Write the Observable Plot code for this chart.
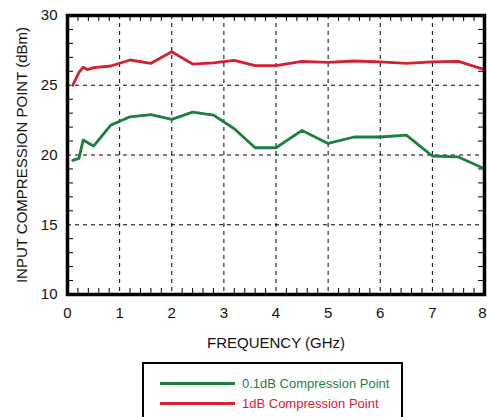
<!DOCTYPE html>
<html>
<head>
<meta charset="utf-8">
<script src="https://cdn.jsdelivr.net/npm/d3@7"></script>
<script src="https://cdn.jsdelivr.net/npm/@observablehq/plot@0.6"></script>
<style>
  body { margin: 0; background: #fff; font-family: "Liberation Sans", Arial, sans-serif; }
  #wrap { position: relative; width: 487px; height: 417px; overflow: hidden; }
  #legend { position: absolute; left: 142px; top: 362px; width: 257px; height: 70px; border: 2px solid #000; background: #fff; }
  .item { position: absolute; left: 16px; height: 14px; display: flex; align-items: center; font-size: 13px; }
  .swatch { width: 75px; height: 3px; margin-right: 7px; }
</style>
</head>
<body>
<div id="wrap">
  <div id="chart"></div>
  <div id="legend"></div>
</div>
<script>
const seriesNames = ["0.1dB Compression Point", "1dB Compression Point"];
const seriesColors = ["#1b7f3e", "#d42030"];

const freq01 = [0.1, 0.22, 0.3, 0.5, 0.83, 1.2, 1.6, 2.0, 2.4, 2.8, 3.2, 3.6, 4.0, 4.5, 5.0, 5.5, 6.0, 6.5, 7.0, 7.5, 8.0];
const p01dB  = [19.62, 19.76, 21.07, 20.64, 22.14, 22.74, 22.9, 22.55, 23.07, 22.86, 21.88, 20.52, 20.52, 21.76, 20.83, 21.29, 21.29, 21.43, 19.93, 19.86, 19.02];

const freq1 = [0.1, 0.22, 0.3, 0.39, 0.5, 0.83, 1.2, 1.6, 2.0, 2.4, 2.8, 3.2, 3.6, 4.0, 4.5, 5.0, 5.5, 6.0, 6.5, 7.0, 7.5, 8.0];
const p1dB  = [25.0, 25.93, 26.29, 26.12, 26.26, 26.38, 26.81, 26.57, 27.4, 26.52, 26.6, 26.79, 26.4, 26.4, 26.71, 26.64, 26.74, 26.67, 26.57, 26.67, 26.71, 26.12];

const xTicks = [0, 1, 2, 3, 4, 5, 6, 7];
const xTickLast = [8];
const yTicks = [10, 15, 20, 25, 30];
const xGrid = [1, 2, 3, 4, 5, 6, 7];
const yGrid = [15, 20, 25];
const xMinor = d3.range(0.2, 8, 0.2).filter(v => Math.abs(v - Math.round(v)) > 1e-6);
const yMinor = d3.range(11, 30, 1).filter(v => v % 5 !== 0);
const xLabel = "FREQUENCY (GHz)";
const yLabel = "INPUT COMPRESSION POINT (dBm)";

const W = 487, H = 355, mt = 15, mr = 3, mb = 61, ml = 67;
const ph = H - mt - mb, pw = W - ml - mr;
const tk = 6;

const rows = [
  ...freq01.map((f, i) => ({f, v: p01dB[i], s: seriesNames[0]})),
  ...freq1.map((f, i) => ({f, v: p1dB[i], s: seriesNames[1]}))
];

const chart = Plot.plot({
  width: W, height: H,
  marginTop: mt, marginRight: mr, marginBottom: mb, marginLeft: ml,
  style: {fontFamily: '"Liberation Sans", Arial, sans-serif', fontSize: "15px", color: "#111", background: "#fff"},
  x: {domain: [0, 8]},
  y: {domain: [10, 30]},
  color: {domain: seriesNames, range: seriesColors},
  marks: [
    Plot.ruleX(xGrid, {stroke: "#000", strokeWidth: 1, strokeDasharray: "4,4"}),
    Plot.ruleY(yGrid, {stroke: "#000", strokeWidth: 1, strokeDasharray: "4,4"}),
    Plot.tickX(xMinor, {x: d => d, insetTop: ph - tk, stroke: "#000", strokeWidth: 1}),
    Plot.tickX(xMinor, {x: d => d, insetBottom: ph - tk, stroke: "#000", strokeWidth: 1}),
    Plot.tickY(yMinor, {y: d => d, insetRight: pw - tk, stroke: "#000", strokeWidth: 1}),
    Plot.tickY(yMinor, {y: d => d, insetLeft: pw - tk, stroke: "#000", strokeWidth: 1}),
    Plot.line(rows, {x: "f", y: "v", z: "s", stroke: "s", strokeWidth: 2.8, strokeLinejoin: "round"}),
    Plot.frame({stroke: "#000", strokeWidth: 3.5}),
    Plot.axisX(xTicks, {anchor: "bottom", tickSize: 0, tickPadding: 13, label: null, fontSize: 15}),
    Plot.axisX(xTickLast, {anchor: "bottom", tickSize: 0, tickPadding: 13, label: null, fontSize: 15, dx: -2}),
    Plot.axisY(yTicks, {anchor: "left", tickSize: 0, tickPadding: 10, label: null, fontSize: 15}),
    Plot.text([xLabel], {text: d => d, frameAnchor: "bottom", dy: 49, textAnchor: "middle", lineAnchor: "middle", fontSize: 15, fill: "#111"}),
    Plot.text([yLabel], {text: d => d, frameAnchor: "left", dx: -45, rotate: -90, textAnchor: "middle", lineAnchor: "middle", fontSize: 15, fill: "#111"})
  ]
});
document.getElementById("chart").appendChild(chart);

const legend = document.getElementById("legend");
seriesNames.forEach((name, i) => {
  const item = document.createElement("div");
  item.className = "item";
  item.style.top = (12 + i * 20) + "px";
  item.style.color = seriesColors[i];
  const sw = document.createElement("div");
  sw.className = "swatch";
  sw.style.background = seriesColors[i];
  item.appendChild(sw);
  const t = document.createElement("span");
  t.textContent = name;
  item.appendChild(t);
  legend.appendChild(item);
});
</script>
</body>
</html>
